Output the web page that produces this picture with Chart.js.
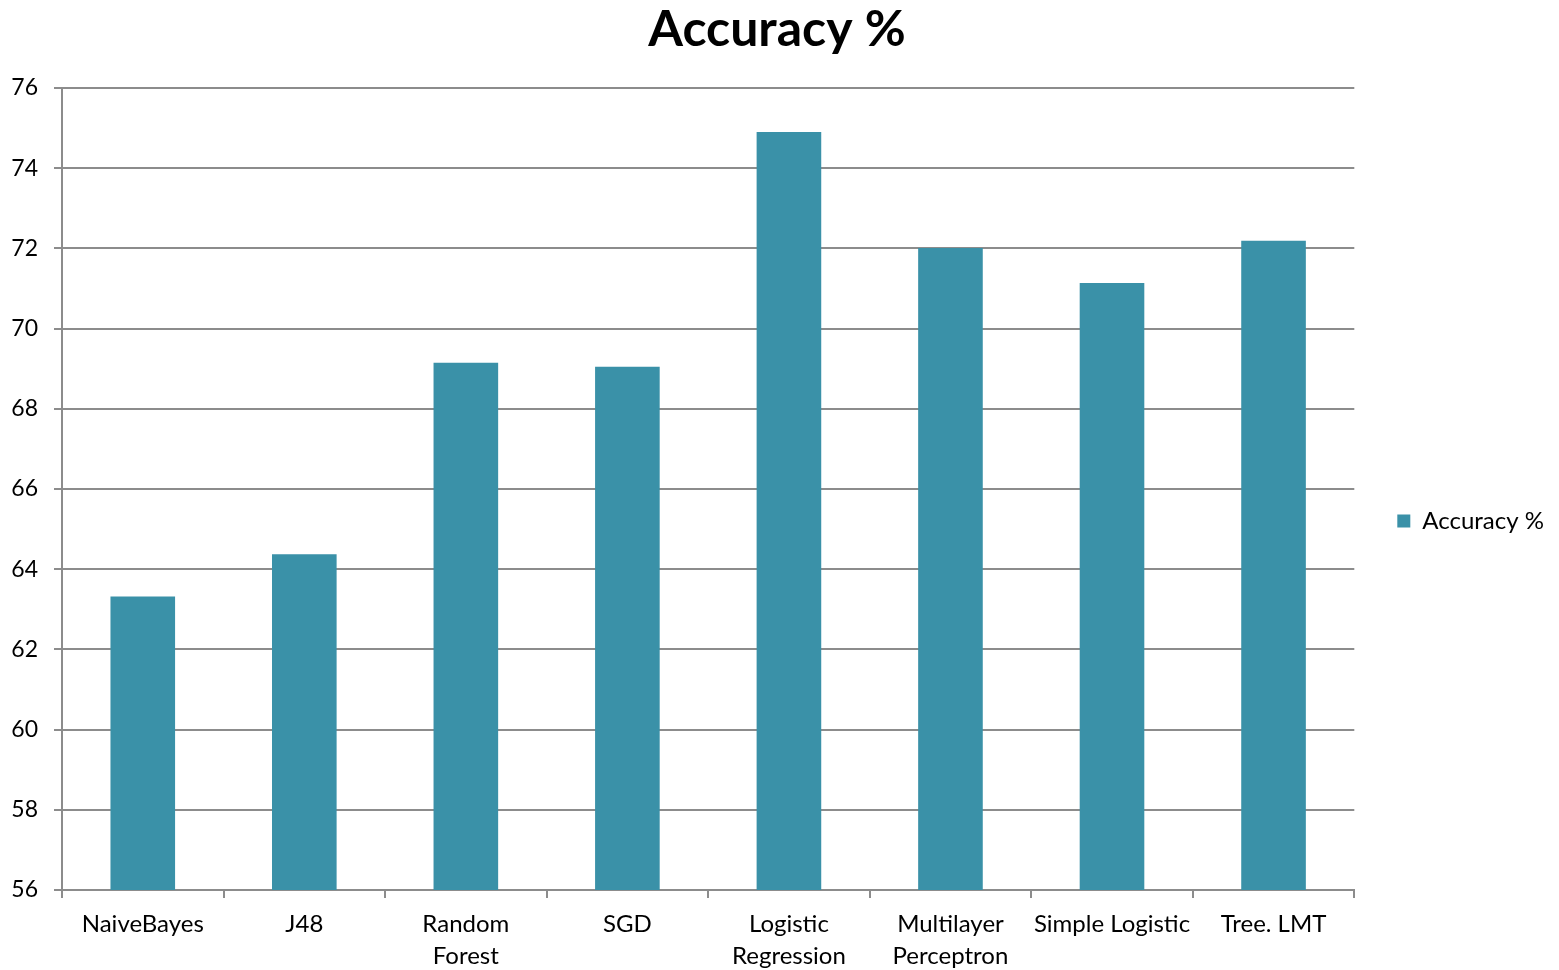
<!DOCTYPE html>
<html>
<head>
<meta charset="utf-8">
<title>Accuracy %</title>
<script src="https://cdn.jsdelivr.net/npm/chart.js@4.4.1/dist/chart.umd.min.js"></script>
<style>
  html, body { margin: 0; padding: 0; background: #ffffff; }
  #wrap { width: 1559px; height: 970px; position: relative; }
</style>
</head>
<body>
<div id="wrap"><canvas id="chart-acc"></canvas></div>
<script>
// ── Data ──
const classifiers = [
  "NaiveBayes", "J48", ["Random", "Forest"], "SGD",
  ["Logistic", "Regression"], ["Multilayer", "Perceptron"],
  "Simple Logistic", "Tree. LMT"
];
const accuracy = [63.32, 64.37, 69.15, 69.05, 74.90, 72.01, 71.14, 72.19];
const yTicks = [56, 58, 60, 62, 64, 66, 68, 70, 72, 74, 76];

const BAR   = "#3a91a8";
const GRID  = "#8c8c8c";
const FONT  = "Lato, 'Open Sans', sans-serif";

Chart.defaults.font.family = FONT;
Chart.defaults.color = "#000000";

new Chart(document.getElementById("chart-acc"), {
  type: "bar",
  data: {
    labels: classifiers,
    datasets: [{
      label: "Accuracy %",
      data: accuracy,
      backgroundColor: BAR,
      borderWidth: 0,
      barPercentage: 0.4,
      categoryPercentage: 1.0,
    }]
  },
  options: {
    responsive: true,
    maintainAspectRatio: false,
    animation: false,
    layout: { padding: { left: 0, right: 5, top: 0, bottom: 0 } },
    plugins: {
      title: {
        display: true,
        text: "Accuracy %",
        color: "#000000",
        font: { size: 50, weight: "bold" },
        padding: { top: 0, bottom: 28 },
      },
      legend: {
        position: "right",
        maxWidth: 210,
        // empty title just pushes the single entry a bit lower
        title: { display: true, text: " ", font: { size: 10 }, padding: { top: 30, bottom: 30 } },
        labels: {
          boxWidth: 13,
          boxHeight: 13,
          padding: 43,
          color: "#000000",
          font: { size: 24 },
        },
      },
      tooltip: { enabled: false },
    },
    scales: {
      x: {
        grid: { display: true, drawOnChartArea: false, offset: true, color: GRID, lineWidth: 2, tickLength: 8 },
        border: { color: GRID, width: 2 },
        ticks: { font: { size: 24, lineHeight: 1.3 }, color: "#000000", padding: 11, maxRotation: 0, autoSkip: false },
        afterFit: s => { s.height = 80; },
      },
      y: {
        min: 56,
        max: 76,
        afterBuildTicks: s => { s.ticks = yTicks.map(v => ({ value: v })); },
        grid: { color: GRID, lineWidth: 2, tickLength: 8 },
        border: { color: GRID, width: 2 },
        ticks: { font: { size: 23 }, color: "#000000", padding: 16 },
        afterFit: s => { s.width = 62; },
      },
    },
  },
});
</script>
</body>
</html>
